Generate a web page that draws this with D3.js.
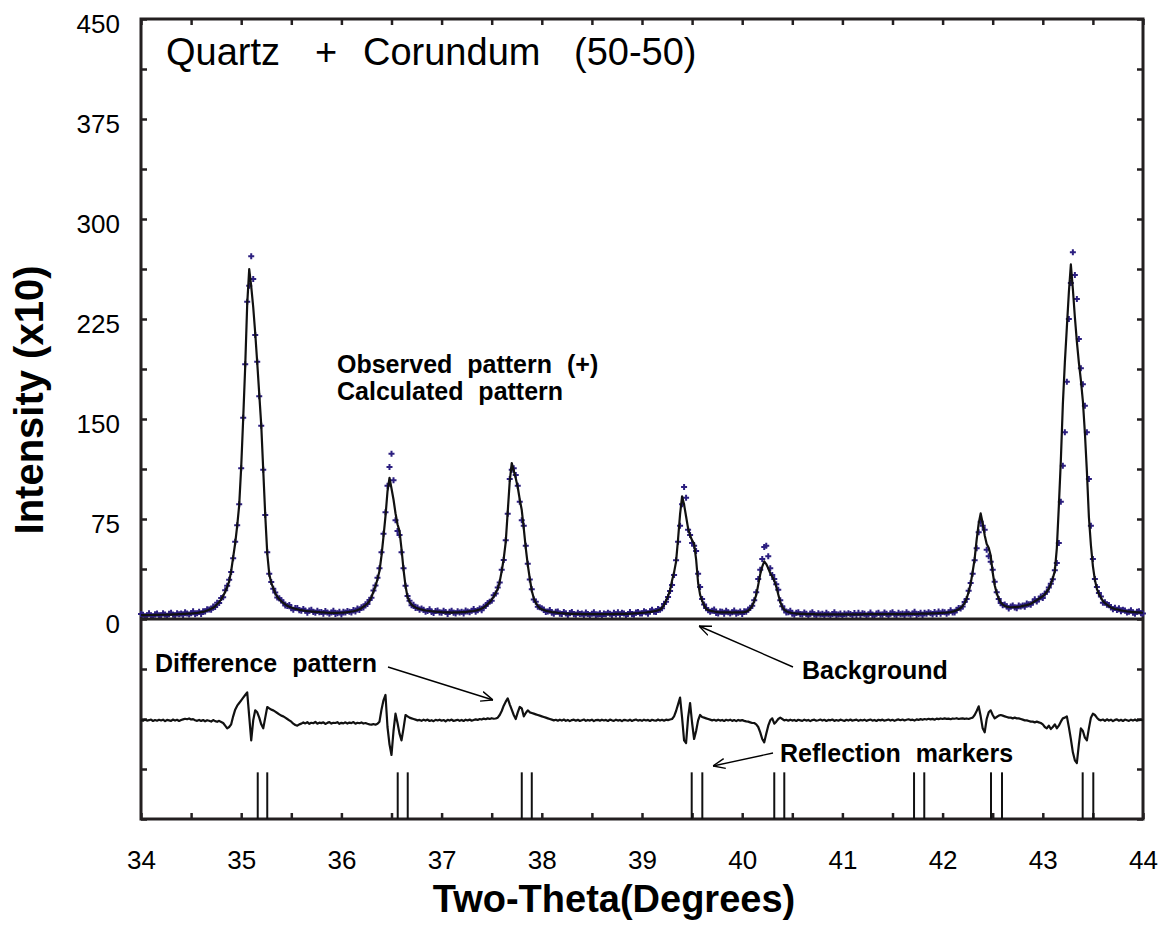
<!DOCTYPE html>
<html>
<head>
<meta charset="utf-8">
<script src="https://cdn.jsdelivr.net/npm/d3@7"></script>
<style>
body { margin: 0; background: #fff; }
text { font-family: "Liberation Sans", Arial, Helvetica, sans-serif; fill: #000; }
</style>
</head>
<body>
<div class="chart"></div>
<script>
// step scan, 34 to 44 degrees two-theta
const startAngle = 34;
const stepAngle = 0.02;

const observed = [
  3.7,3.2,2.0,2.7,4.3,2.4,1.9,3.6,4.1,2.7,
  2.7,4.3,3.4,2.1,3.9,4.7,3.1,2.7,4.4,3.5,
  4.1,2.8,5.1,4.1,3.3,4.4,5.8,3.5,4.3,5.5,
  3.8,5.9,5.7,7.3,7.1,6.9,9.4,9.0,12.2,12.0,
  15.8,16.4,21.6,24.9,29.5,35.2,45.6,57.9,70.4,86.1,
  113,151,191,238,250,272,255,213,193,167,
  145,112,78,50,34,27.8,22.7,19.9,16.1,15.6,
  14.1,12.3,10.1,9.7,10.5,8.0,7.0,8.2,8.3,6.5,
  6.2,7.5,6.3,4.7,6.4,7.0,5.2,4.6,6.1,5.0,
  5.3,3.9,6.0,4.8,3.9,4.9,6.1,3.7,4.4,5.4,
  3.4,5.4,4.8,6.0,5.5,4.8,6.8,5.7,7.9,6.7,
  8.9,8.6,11.0,11.2,14.3,16.0,21.4,25.2,31,38,
  50,64,80,100,114,124,104,74,66,63,
  50,38,25,17.2,13.6,10.3,10.6,8.2,8.7,7.0,
  7.9,7.0,5.5,6.0,7.3,5.2,4.5,6.0,6.4,4.9,
  4.6,6.1,5.2,3.7,5.5,6.2,4.6,4.1,5.8,4.9,
  5.5,4.1,6.4,5.6,5.0,6.1,7.5,5.4,6.5,7.8,
  6.5,9.2,9.7,12.0,13.0,13.7,17.8,19.1,23.7,27.4,
  37,44.3,59,79,105,112,113,108,100,88,
  74,70,55,41.5,29.6,22.4,14.7,12.9,9.1,8.8,
  8.1,7.1,5.2,5.6,6.8,4.6,3.9,5.4,5.6,4.0,
  3.8,5.3,4.3,2.8,4.5,5.3,3.6,3.1,4.7,3.7,
  4.1,2.7,4.9,3.8,3.0,3.9,5.1,2.7,3.4,4.3,
  2.3,4.2,3.5,4.6,3.9,2.9,4.7,3.3,5.0,3.2,
  4.6,4.2,3.0,3.7,5.3,3.5,3.1,4.8,5.3,4.1,
  4.1,5.8,5.1,3.9,5.8,6.9,5.5,5.3,7.5,7.0,
  8.0,11.2,12.9,16.5,21.0,25.5,33,44,58,70,
  86,99,91,67,63,57,55,51,34,24,
  15,10.9,8.3,6.5,5.5,6.2,7.1,4.5,4.2,5.7,
  5.4,3.9,6.1,5.0,4.2,5.1,6.4,4.0,4.7,5.6,
  3.7,5.8,5.4,7.2,8.3,10,14,20,30,37,
  45,54,55,47,38,33,30,26,22,14,
  9.5,7.2,4.9,5.0,6.1,3.9,3.2,4.6,5.0,3.5,
  3.4,4.9,3.9,2.5,4.2,5.0,3.3,2.7,4.4,3.4,
  3.9,2.5,4.7,3.6,2.8,3.8,5.0,2.6,3.3,4.2,
  2.2,4.1,3.4,4.4,3.7,2.7,4.5,3.0,4.7,2.9,
  4.3,3.9,2.7,3.4,4.9,3.0,2.5,4.1,4.6,3.2,
  3.1,4.8,3.9,2.5,4.3,5.1,3.4,2.9,4.6,3.6,
  4.1,2.7,5.0,3.9,3.1,4.1,5.4,3.0,3.7,4.7,
  2.7,4.6,4.0,5.0,4.4,3.4,5.3,3.8,5.6,3.9,
  5.4,5.0,3.9,4.8,6.5,4.9,4.8,7.0,8.3,7.8,
  9.3,12.8,15.0,21.1,27.0,34,44,53,65,73,
  70,67,52,47,43,37,28,20,15,12,
  10.3,10.9,9.5,7.8,9.4,10.2,8.6,8.1,10.1,9.3,
  10.2,9.1,11.6,11.0,10.7,12.6,14.9,13.2,14.9,16.8,
  15.8,19.0,20.4,23.7,26.4,29.8,36.5,42,57,88,
  115,140,178,225,252,275,258,240,210,188,
  176,160,140,105,70,45,30,24,19.5,16.8,
  12.1,12.6,10.6,10.5,8.8,7.3,8.5,6.8,8.1,5.9,
  7.0,6.3,4.8,5.4,6.6,4.6,4.0,5.5,5.9,4.4,
  4.1
];

const calculated = [
  2.9,2.9,2.9,2.9,3.0,3.0,3.0,3.1,3.1,3.1,
  3.2,3.2,3.2,3.3,3.3,3.3,3.4,3.5,3.5,3.6,
  3.7,3.8,3.9,4.0,4.0,4.1,4.3,4.4,4.5,4.8,
  5.1,5.3,5.8,6.4,6.9,7.7,8.4,9.5,11,12.6,
  14.7,17.3,20.4,23.8,28.2,36,46.4,56.8,69.8,85.4,
  114,150.4,189.4,236.2,262.4,249.4,233.8,214.3,192.2,168.8,
  145.4,111.6,77.8,49.2,33.6,27.1,23.2,19.3,16.7,14.9,
  13.3,12.0,11.0,9.9,9.2,8.6,8.1,7.7,7.3,6.9,
  6.7,6.4,6.1,5.9,5.8,5.6,5.5,5.4,5.2,5.1,
  4.9,4.9,4.8,4.7,4.6,4.6,4.6,4.6,4.6,4.7,
  4.7,4.8,4.9,5.1,5.3,5.6,5.8,6.2,6.7,7.3,
  8.1,9.2,10.3,11.6,13.4,16.5,20.6,24.6,29.8,36.0,
  47.3,61.7,77.1,95.6,105.9,97.9,89.6,79.3,71.1,65.9,
  52.5,37.1,24.7,16.5,12.9,10.8,9.5,8.7,8.0,7.5,
  7.1,6.7,6.4,6.2,6.0,5.8,5.6,5.5,5.4,5.3,
  5.1,5.0,5.0,4.9,4.9,4.8,4.9,4.9,4.9,5.0,
  5.1,5.1,5.2,5.5,5.7,5.8,6.0,6.3,6.7,7.1,
  7.8,8.6,9.8,11.1,12.8,14.5,16.8,19.6,22.5,28,
  36,45.2,57.7,80.5,103.3,117,111.3,105.6,98.8,89.6,
  81.7,68,53.2,40.6,30.4,21.2,15.5,12.1,9.8,8.1,
  7.3,6.8,6.1,5.8,5.5,5.2,5.0,4.9,4.6,4.4,
  4.3,4.2,4.1,4.0,3.9,3.9,3.9,3.9,3.8,3.8,
  3.7,3.7,3.7,3.7,3.7,3.6,3.6,3.6,3.6,3.6,
  3.6,3.6,3.6,3.7,3.7,3.7,3.7,3.8,3.8,3.8,
  3.8,3.9,3.9,3.9,4.0,4.1,4.2,4.3,4.3,4.5,
  4.6,4.7,4.9,5.1,5.2,5.5,5.8,6.1,6.6,7.1,
  8.3,10.6,13.7,17.2,21.7,28.8,35.0,43.0,60.0,78.6,
  92.0,85.8,76.9,68.0,62.6,59.0,56.4,44.8,27.0,18.1,
  13.7,10.2,7.6,6.7,6.2,5.9,5.6,5.4,5.1,5.0,
  5.0,4.9,4.9,4.9,4.9,4.8,4.9,4.9,4.9,4.9,
  5.0,5.2,5.5,6.3,7.7,9.9,13.4,18.1,25.6,33.6,
  39.2,43.2,41.2,38.0,34.3,31.9,28.7,24.3,18.3,12.6,
  9.0,6.8,5.8,5.2,4.8,4.5,4.3,4.1,4.0,3.9,
  3.9,3.8,3.7,3.7,3.6,3.6,3.6,3.5,3.5,3.5,
  3.5,3.5,3.5,3.5,3.5,3.5,3.5,3.5,3.5,3.5,
  3.5,3.5,3.5,3.5,3.5,3.5,3.5,3.5,3.5,3.5,
  3.5,3.6,3.6,3.6,3.6,3.6,3.6,3.6,3.6,3.6,
  3.6,3.7,3.7,3.7,3.7,3.7,3.7,3.7,3.7,3.7,
  3.7,3.7,3.8,3.8,3.8,3.8,3.9,3.9,3.9,4.0,
  4.0,4.0,4.1,4.1,4.2,4.2,4.3,4.3,4.4,4.5,
  4.6,4.7,4.8,5.0,5.2,5.5,5.9,6.5,7.3,8.2,
  9.8,12.0,15.4,20.3,26.4,35.4,45.2,59.5,71.5,79.2,
  71.8,62.9,56.3,53.4,47.6,34.9,25.3,19.4,15.3,12.4,
  10.8,9.8,9.3,9.0,8.8,8.8,8.9,8.9,9.2,9.4,
  9.8,10.1,10.4,10.9,11.4,12.3,13.4,14.1,15.1,16.1,
  17.1,18.4,20.5,22.8,26.2,30.6,35.9,53,84.5,118.7,
  160.8,192.3,218.6,244.9,265.9,247.5,226.5,208,192.3,179.1,
  163.3,139.7,110.7,76.5,55.5,39.7,29.2,22.6,18.7,16.1,
  13.4,12.0,10.7,9.6,8.6,8.1,7.5,7.3,6.9,6.5,
  6.2,6.0,5.7,5.6,5.3,5.2,5.1,5.0,4.9,4.8,
  4.7
];

const difference = [
  0.3,-0.4,0.5,-0.2,0.1,0.6,-0.5,0.2,-0.3,0.4,
  -0.1,0.5,-0.6,0.3,0.0,-0.4,0.6,-0.2,0.4,-0.5,
  0.2,0.7,1.2,0.8,1.4,0.6,0.9,0.1,-0.4,0.3,
  -0.5,0.2,-0.7,0.1,-0.3,-0.9,0.2,-0.6,-1.1,-0.4,
  -1.2,-2.0,-4.0,-6.0,-5.0,-3.0,3.0,8.0,11.0,13.0,
  15.0,17.0,19.0,21.0,3.0,-15.0,0.0,7.5,6.0,2.0,
  -3.0,-6.0,2.0,10.0,9.0,8.0,7.5,6.5,5.5,4.5,
  3.5,3.0,2.0,1.0,0.0,-1.0,-2.5,-3.5,-4.0,-3.0,
  -2.5,-1.6,-2.3,-1.4,-2.6,-1.8,-2.2,-1.2,-2.5,-1.7,
  -2.1,-1.5,-2.7,-1.9,-1.3,-2.4,-1.8,-2.0,-1.4,-2.6,
  -1.9,-2.3,-1.5,-2.4,-1.7,-2.1,-1.3,-2.5,-1.8,-2.2,
  -1.6,-2.4,-2.0,-2.6,-3.0,-3.2,-2.8,-3.3,-2.6,-1.0,
  8.0,15.0,19.0,-5.0,-18.0,-26.0,-8.0,5.0,-2.0,-10.0,
  -15.0,-6.0,4.0,3.0,2.0,1.5,1.0,0.5,0.0,0.3,
  -0.4,0.5,-0.2,0.6,-0.5,0.1,-0.6,0.4,-0.1,0.5,
  -0.3,0.2,-0.7,0.4,-0.2,0.6,-0.5,0.0,0.4,-0.4,
  0.3,-0.5,0.5,-0.1,0.6,-0.3,0.2,0.7,0.3,1.0,
  0.6,1.3,0.8,1.5,1.0,1.6,1.2,1.4,2.0,4.0,
  7.0,11.0,14.0,16.5,12.0,8.0,4.0,1.0,6.0,10.0,
  9.0,3.0,5.5,7.5,6.0,5.5,5.0,4.5,4.0,3.5,
  3.0,2.5,2.0,1.5,1.0,0.5,0.0,0.4,-0.3,0.5,
  -0.2,0.6,-0.4,0.3,-0.6,0.2,0.5,-0.3,0.4,-0.5,
  0.1,0.6,-0.4,0.3,-0.2,0.5,-0.6,0.2,0.4,-0.3,
  0.5,-0.1,0.3,-0.5,0.6,0.0,-0.4,0.5,-0.2,0.3,
  -0.6,0.4,0.1,-0.3,0.5,-0.5,0.2,0.6,-0.2,0.3,
  -0.4,0.5,-0.1,0.3,-0.5,0.4,0.0,-0.3,0.6,-0.2,
  0.4,-0.3,0.5,0.2,0.6,1.0,3.0,7.0,12.0,17.0,
  2.0,-15.0,-17.0,2.0,13.0,-2.0,-14.0,-8.0,0.0,4.0,
  2.5,2.0,1.5,1.0,0.5,0.0,0.4,-0.3,0.5,-0.2,
  0.3,-0.5,0.4,-0.1,0.5,-0.4,0.2,-0.6,0.3,-0.2,
  0.2,-0.4,-0.8,-1.0,-1.5,-2.0,-2.0,-3.0,-5.0,-9.0,
  -14.0,-16.5,-10.0,-4.0,0.0,1.5,-2.5,-1.0,1.0,2.0,
  1.0,0.0,0.4,-0.3,0.5,-0.2,0.3,-0.5,0.4,0.0,
  -0.4,0.5,-0.2,0.3,-0.6,0.2,0.5,-0.3,0.1,0.6,
  -0.2,0.4,-0.5,0.3,0.0,0.6,-0.4,0.2,-0.3,0.5,
  0.1,-0.5,0.4,-0.2,0.6,-0.3,0.2,0.5,-0.4,0.3,
  -0.1,0.5,-0.4,0.2,0.6,-0.2,0.3,-0.5,0.4,0.0,
  0.5,-0.3,0.2,0.6,-0.2,0.4,-0.4,0.3,0.7,0.1,
  0.6,-0.1,0.4,0.8,0.2,0.5,-0.2,0.7,0.3,0.9,
  0.4,1.0,0.6,1.2,0.7,1.1,0.5,1.3,0.9,1.4,
  1.0,1.5,1.1,1.3,0.8,1.4,1.2,1.6,1.0,1.3,
  1.5,1.1,1.4,1.0,1.6,2.0,4.0,7.0,10.5,3.0,
  -6.0,-9.0,1.0,6.0,7.5,4.0,1.5,2.5,3.5,4.0,
  3.5,3.0,2.5,2.0,2.0,1.5,2.0,1.5,1.5,1.0,
  0.5,0.0,0.0,-0.5,-1.0,-1.0,-1.5,-1.0,-1.5,-2.0,
  -3.0,-5.0,-6.0,-4.0,-6.5,-5.0,-3.0,-6.0,-4.0,-1.0,
  1.5,2.0,3.0,-5.0,-14.0,-24.0,-30.0,-32.0,-18.0,-6.0,
  -8.0,-13.0,-15.0,-6.0,2.0,5.0,4.0,2.0,0.5,0.0,
  0.6,-0.4,0.8,-0.2,0.5,-0.6,0.3,0.7,-0.3,0.4,
  -0.5,0.6,0.1,-0.4,0.5,-0.2,0.6,-0.3,0.2,0.4,
  -0.1
];

const reflections = [35.165, 35.26, 36.562, 36.662, 37.80, 37.90, 39.496, 39.602,
  40.32, 40.42, 41.715, 41.817, 42.483, 42.593, 43.398, 43.504];

const xLabels = [34, 35, 36, 37, 38, 39, 40, 41, 42, 43, 44];
const yLabels = [0, 75, 150, 225, 300, 375, 450];

const diffBase = -76;     // the difference curve sits below zero
const markerTop = -115;   // reflection bars run from here down to the frame
const ink = '#231f20';
const plus = '#2c1f80';

const angle = i => startAngle + i * stepAngle;

const svg = d3.select('.chart')
    .append('svg')
    .attr('width', 1169)
    .attr('height', 931);

const xScale = d3.scaleLinear()
    .domain([34, 44])
    .range([141, 1143]);

const yScale = d3.scaleLinear()
    .domain([-150, 450])
    .range([819, 19]);

// axes, ticks pointing into the frame on all four sides
const xTickValues = d3.range(34, 44.001, 0.5);
const yTickValues = d3.range(-150, 450.001, 37.5);

svg.append('g')
    .attr('class', 'x-axis')
    .attr('transform', 'translate(0,' + yScale(-150) + ')')
    .call(d3.axisBottom(xScale).tickValues(xTickValues).tickSizeInner(-6).tickSizeOuter(0)
        .tickPadding(32).tickFormat(d => xLabels.includes(d) ? d : ''));

svg.append('g')
    .attr('class', 'x-axis')
    .attr('transform', 'translate(0,' + yScale(450) + ')')
    .call(d3.axisTop(xScale).tickValues(xTickValues).tickSizeInner(-6).tickSizeOuter(0)
        .tickFormat(''));

svg.append('g')
    .attr('class', 'y-axis')
    .attr('transform', 'translate(' + xScale(34) + ',0)')
    .call(d3.axisLeft(yScale).tickValues(yTickValues).tickSizeInner(-6).tickSizeOuter(0)
        .tickPadding(21).tickFormat(d => yLabels.includes(d) ? d : ''));

svg.append('g')
    .attr('class', 'y-axis')
    .attr('transform', 'translate(' + xScale(44) + ',0)')
    .call(d3.axisRight(yScale).tickValues(yTickValues).tickSizeInner(-6).tickSizeOuter(0)
        .tickFormat(''));

svg.selectAll('.domain').remove();
svg.selectAll('.tick line')
    .attr('stroke', ink)
    .attr('stroke-width', 2.5);
svg.selectAll('.tick text')
    .style('font-size', '26px')
    .style('font-family', '"Liberation Sans", Arial, sans-serif')
    .attr('fill', '#000');
svg.selectAll('.y-axis .tick text').attr('dy', '0.5em');

svg.append('rect')
    .attr('x', xScale(34))
    .attr('y', yScale(450))
    .attr('width', xScale(44) - xScale(34))
    .attr('height', yScale(-150) - yScale(450))
    .attr('fill', 'none')
    .attr('stroke', ink)
    .attr('stroke-width', 3);

// observed points
svg.append('g')
    .selectAll('path')
    .data(observed)
    .enter()
    .append('path')
    .attr('d', 'M-3,0H3M0,-3V3')
    .attr('transform', (d, i) => 'translate(' + xScale(angle(i)) + ',' + yScale(d) + ')')
    .attr('stroke', plus)
    .attr('stroke-width', 2)
    .attr('fill', 'none');

// calculated pattern
const line = d3.line()
    .x((d, i) => xScale(angle(i)))
    .y(d => yScale(d));

svg.append('path')
    .datum(calculated)
    .attr('d', line)
    .attr('fill', 'none')
    .attr('stroke', '#111')
    .attr('stroke-width', 2.2)
    .attr('stroke-linejoin', 'round');

// background / zero line
svg.append('line')
    .attr('x1', xScale(34))
    .attr('x2', xScale(44))
    .attr('y1', yScale(0))
    .attr('y2', yScale(0))
    .attr('stroke', ink)
    .attr('stroke-width', 3);

// difference pattern
const diffLine = d3.line()
    .x((d, i) => xScale(angle(i)))
    .y(d => yScale(diffBase + d));

svg.append('path')
    .datum(difference)
    .attr('d', diffLine)
    .attr('fill', 'none')
    .attr('stroke', '#111')
    .attr('stroke-width', 2.2)
    .attr('stroke-linejoin', 'round');

// reflection markers
svg.append('g')
    .selectAll('line')
    .data(reflections)
    .enter()
    .append('line')
    .attr('x1', d => xScale(d))
    .attr('x2', d => xScale(d))
    .attr('y1', yScale(markerTop))
    .attr('y2', yScale(-150))
    .attr('stroke', '#111')
    .attr('stroke-width', 2);

// labels
svg.append('text')
    .attr('y', 65)
    .style('font-size', '38px')
    .selectAll('tspan')
    .data([['Quartz', 166], ['+', 315], ['Corundum', 363], ['(50-50)', 574]])
    .enter()
    .append('tspan')
    .attr('x', d => d[1])
    .text(d => d[0]);

svg.append('text')
    .attr('transform', 'translate(43,400) rotate(-90)')
    .attr('text-anchor', 'middle')
    .style('font-size', '40px')
    .style('font-weight', 'bold')
    .text('Intensity (x10)');

svg.append('text')
    .attr('x', 614)
    .attr('y', 912)
    .attr('text-anchor', 'middle')
    .style('font-size', '38px')
    .style('font-weight', 'bold')
    .text('Two-Theta(Degrees)');

const notes = [
    ['Observed pattern (+)', 337, 373],
    ['Calculated pattern', 337, 400],
    ['Difference pattern', 155, 672],
    ['Background', 802, 679],
    ['Reflection markers', 780, 762]
];

svg.append('g')
    .selectAll('text')
    .data(notes)
    .enter()
    .append('text')
    .attr('x', d => d[1])
    .attr('y', d => d[2])
    .style('font-size', '25px')
    .style('font-weight', 'bold')
    .style('word-spacing', '8px')
    .text(d => d[0]);

// arrows
svg.append('defs')
    .append('marker')
    .attr('id', 'head')
    .attr('viewBox', '0 -6 12 12')
    .attr('refX', 12)
    .attr('refY', 0)
    .attr('markerWidth', 12)
    .attr('markerHeight', 12)
    .attr('markerUnits', 'userSpaceOnUse')
    .attr('orient', 'auto')
    .append('path')
    .attr('d', 'M0,-5L12,0L0,5')
    .attr('fill', 'none')
    .attr('stroke', '#000')
    .attr('stroke-width', 1.4);

const arrows = [
    [388, 667, 493, 700],
    [793, 667, 699, 626],
    [773, 753, 713, 766]
];

svg.append('g')
    .selectAll('line')
    .data(arrows)
    .enter()
    .append('line')
    .attr('x1', d => d[0])
    .attr('y1', d => d[1])
    .attr('x2', d => d[2])
    .attr('y2', d => d[3])
    .attr('stroke', '#000')
    .attr('stroke-width', 1.4)
    .attr('marker-end', 'url(#head)');
</script>
</body>
</html>
